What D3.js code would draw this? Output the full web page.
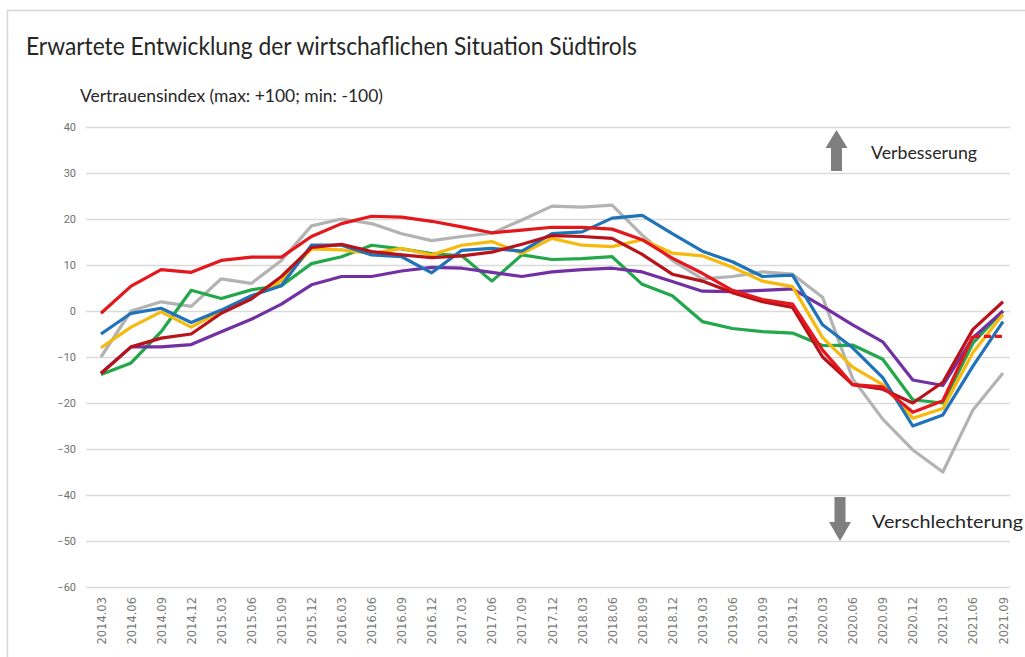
<!DOCTYPE html>
<html>
<head>
<meta charset="utf-8">
<script src="https://cdn.jsdelivr.net/npm/d3@7"></script>
<style>
  body { margin: 0; background: #fff; }
  svg { display: block; }
</style>
</head>
<body>
<div id="chart"></div>
<script>
const quarters = ["2014.03","2014.06","2014.09","2014.12","2015.03","2015.06","2015.09","2015.12",
  "2016.03","2016.06","2016.09","2016.12","2017.03","2017.06","2017.09","2017.12",
  "2018.03","2018.06","2018.09","2018.12","2019.03","2019.06","2019.09","2019.12",
  "2020.03","2020.06","2020.09","2020.12","2021.03","2021.06","2021.09"];

const yTicks = [40, 30, 20, 10, 0, -10, -20, -30, -40, -50, -60];

const grauWerte = [-10, 0, 2, 1, 7, 6, 11, 18.5, 20, 19, 16.8, 15.3, 16.2, 16.9, 19.8, 22.8,
  22.6, 23, 16.5, 11, 7, 7.5, 8.5, 8, 3, -14.7, -23.5, -30.2, -35, -21.5, -13.5];
const gruenWerte = [-13.8, -11.3, -4.5, 4.5, 2.7, 4.6, 5.5, 10.3, 11.8, 14.3, 13.5, 12.5, 12, 6.5, 12.2, 11.2,
  11.4, 11.8, 5.8, 3.3, -2.3, -3.8, -4.5, -4.8, -7.5, -7.4, -10.5, -19.3, -20, -7, 0];
const violettWerte = [-13.5, -7.8, -7.8, -7.3, -4.5, -1.8, 1.5, 5.7, 7.5, 7.5, 8.7, 9.5, 9.3, 8.4, 7.5, 8.5,
  9, 9.3, 8.5, 6.4, 4.3, 4.2, 4.5, 4.8, 1, -3, -6.7, -15, -16.2, -5.8, 0];
const gelbWerte = [-8, -3.5, -0.2, -3.5, 0, 3, 6.5, 13.5, 13.3, 12.5, 13.6, 12.2, 14.3, 15.1, 12.5, 15.8,
  14.3, 14, 15.5, 12.6, 12, 9.5, 6.5, 5.3, -5.8, -12.2, -16, -23.3, -21.2, -9, -0.7];
const blauWerte = [-5, -0.5, 0.6, -2.5, 0.2, 3.3, 5.5, 14.3, 14.3, 12.2, 11.8, 8.3, 13.2, 13.6, 13, 16.8,
  17.2, 20.2, 20.8, 16.8, 13, 10.7, 7.5, 7.8, -3, -8, -14.5, -25, -22.6, -12, -2.3];
const dunkelrotWerte = [-13.6, -7.8, -5.9, -5, -0.5, 2.6, 7.5, 13.8, 14.5, 12.9, 12.2, 11.6, 12, 12.8, 14.5, 16.4,
  16.2, 15.8, 12.3, 8, 6.5, 4, 2, 0.8, -10, -16, -17, -20, -15.5, -4, 2];
const rotWerte = [-0.5, 5.4, 9, 8.4, 11, 11.7, 11.7, 16.2, 19, 20.6, 20.4, 19.5, 18.3, 17, 17.6, 18.2,
  18.2, 17.8, 15.5, 11.5, 8.2, 4.5, 2.5, 1.5, -8.5, -16, -16.5, -22, -19.5, -5.5, -5.5];

const series = [
  { values: grauWerte, color: "#b3b3b3" },
  { values: gruenWerte, color: "#22a84a" },
  { values: violettWerte, color: "#7330a2" },
  { values: gelbWerte, color: "#f6b90c" },
  { values: blauWerte, color: "#1f73b9" },
  { values: dunkelrotWerte, color: "#b8121b" },
  { values: rotWerte, color: "#e3171c", dashLast: true }
];

window.onload = function () {
  const w = 1025;
  const h = 657;
  const gridLeft = 86;
  const gridRight = 1010;

  const svg = d3.select("#chart")
    .append("svg")
    .attr("width", w)
    .attr("height", h);

  // Rahmen
  svg.append("rect")
    .attr("x", 7.5).attr("y", 10.5)
    .attr("width", 1040).attr("height", 700)
    .attr("fill", "none")
    .attr("stroke", "#d6d6d6")
    .attr("stroke-width", 1.5);

  const x = d3.scalePoint()
    .domain(quarters)
    .range([101, 1003]);

  const y = d3.scaleLinear()
    .domain([-60, 40])
    .range([587, 127]);

  // Titel
  svg.append("text")
    .attr("x", 26).attr("y", 55)
    .attr("font-family", "Lato, 'Open Sans', sans-serif")
    .attr("font-size", 24.5)
    .attr("fill", "#262626")
    .attr("textLength", 611)
    .attr("lengthAdjust", "spacingAndGlyphs")
    .text("Erwartete Entwicklung der wirtschaflichen Situation Südtirols");

  svg.append("text")
    .attr("x", 80).attr("y", 102)
    .attr("font-family", "Lato, 'Open Sans', sans-serif")
    .attr("font-size", 17)
    .attr("fill", "#262626")
    .attr("textLength", 303)
    .attr("lengthAdjust", "spacingAndGlyphs")
    .text("Vertrauensindex (max: +100; min: -100)");

  // y-Achse mit Gitternetz
  const yAxis = svg.append("g")
    .attr("transform", `translate(${gridLeft},0)`)
    .call(d3.axisLeft(y)
      .tickValues(yTicks)
      .tickSize(-(gridRight - gridLeft))
      .tickPadding(10));
  yAxis.select(".domain").remove();
  yAxis.selectAll(".tick line")
    .attr("stroke", "#dadada")
    .attr("stroke-width", 1.5);
  yAxis.selectAll(".tick text")
    .attr("font-family", "Roboto, sans-serif")
    .attr("font-size", 11)
    .attr("fill", "#707070");

  // x-Achse
  const xAxis = svg.append("g")
    .attr("transform", `translate(0,${y(-60)})`)
    .call(d3.axisBottom(x).tickSize(0));
  xAxis.select(".domain").remove();
  xAxis.selectAll(".tick text")
    .attr("font-family", "'DejaVu Sans', sans-serif")
    .attr("font-size", 11.5)
    .attr("fill", "#7a7a7a")
    .attr("text-anchor", "end")
    .attr("transform", "rotate(-90)")
    .attr("x", -10)
    .attr("y", 0)
    .attr("dy", "0.35em");

  const line = d3.line()
    .x((d, i) => x(quarters[i]))
    .y(d => y(d));

  series.forEach(s => {
    const n = s.values.length;
    const solid = s.dashLast ? s.values.map((v, i) => i < n - 1 ? v : null) : s.values;
    svg.append("path")
      .datum(solid)
      .attr("d", line.defined(d => d !== null))
      .attr("fill", "none")
      .attr("stroke", s.color)
      .attr("stroke-width", 3.2)
      .attr("stroke-linejoin", "round");
    if (s.dashLast) {
      const tail = s.values.map((v, i) => i >= n - 2 ? v : null);
      svg.append("path")
        .datum(tail)
        .attr("d", line.defined(d => d !== null))
        .attr("fill", "none")
        .attr("stroke", s.color)
        .attr("stroke-width", 3.2)
        .attr("stroke-dasharray", "7,4");
    }
  });

  // Pfeile
  const arrowColor = "#7f7f7f";
  svg.append("path")
    .attr("d", "M836.5,130 L847.5,148 L842,148 L842,171 L831,171 L831,148 L825.5,148 Z")
    .attr("fill", arrowColor);
  svg.append("path")
    .attr("d", "M834.5,497 L845.5,497 L845.5,522 L851,522 L840,541 L829,522 L834.5,522 Z")
    .attr("fill", arrowColor);

  svg.append("text")
    .attr("x", 871).attr("y", 159)
    .attr("font-family", "Lato, 'Open Sans', sans-serif")
    .attr("font-size", 18)
    .attr("fill", "#262626")
    .attr("textLength", 106)
    .attr("lengthAdjust", "spacingAndGlyphs")
    .text("Verbesserung");

  svg.append("text")
    .attr("x", 872).attr("y", 528)
    .attr("font-family", "Lato, 'Open Sans', sans-serif")
    .attr("font-size", 18)
    .attr("fill", "#262626")
    .attr("textLength", 151)
    .attr("lengthAdjust", "spacingAndGlyphs")
    .text("Verschlechterung");
};
</script>
</body>
</html>
